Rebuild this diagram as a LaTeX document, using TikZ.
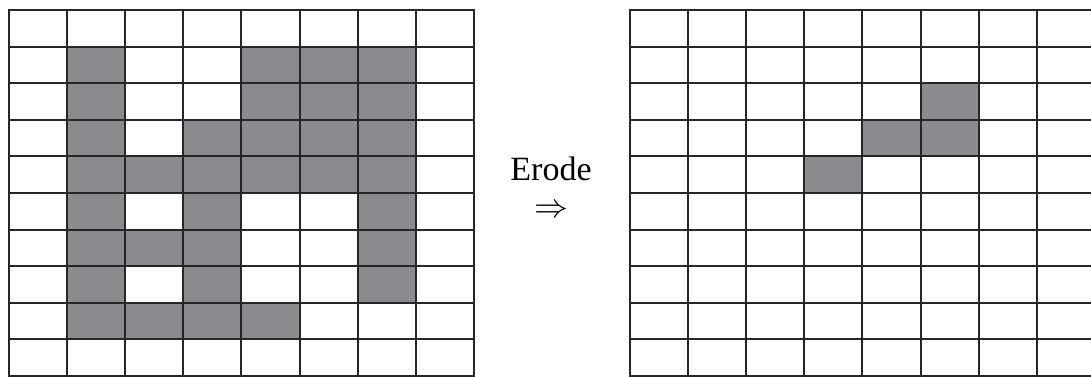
\RequirePackage{fix-cm}
\documentclass[tikz,border=0pt]{standalone}
\usepackage{fontspec}
\setmainfont{Liberation Serif}
\definecolor{cellgray}{RGB}{138,139,143}
\definecolor{gridline}{RGB}{38,38,38}
\tikzset{
  cellfill/.style={fill=cellgray},
  gridrule/.style={draw=gridline, line width=2pt, line cap=rect},
  labeltext/.style={font=\fontsize{34}{37}\selectfont, inner sep=0pt, align=center}
}
\newcommand\cw{58.1}
\newcommand\ch{36.6}
\begin{document}
\begin{tikzpicture}[x=1pt, y=-1pt]
  \useasboundingbox (0,0) rectangle (1091,377);
  \clip (0,0) rectangle (1091,377);
  % input image: 8 x 10 cells
  \begin{scope}[shift={(9,10)}]
    \foreach \c/\r in {1/1,4/1,5/1,6/1,
                       1/2,4/2,5/2,6/2,
                       1/3,3/3,4/3,5/3,6/3,
                       1/4,2/4,3/4,4/4,5/4,6/4,
                       1/5,3/5,6/5,
                       1/6,2/6,3/6,6/6,
                       1/7,3/7,6/7,
                       1/8,2/8,3/8,4/8}
      \fill[cellfill] (\c*\cw,\r*\ch) rectangle ++(\cw,\ch);
    \foreach \i in {0,...,8}
      \draw[gridrule] (\i*\cw,0) -- (\i*\cw,10*\ch);
    \foreach \j in {0,...,10}
      \draw[gridrule] (0,\j*\ch) -- (8*\cw,\j*\ch);
  \end{scope}
  % eroded result
  \begin{scope}[shift={(630,10)}]
    \foreach \c/\r in {5/2,4/3,5/3,3/4}
      \fill[cellfill] (\c*\cw,\r*\ch) rectangle ++(\cw,\ch);
    \foreach \i in {0,...,8}
      \draw[gridrule] (\i*\cw,0) -- (\i*\cw,10*\ch);
    \foreach \j in {0,...,10}
      \draw[gridrule] (0,\j*\ch) -- (8*\cw,\j*\ch);
  \end{scope}
  % operation label between the two grids
  \node[labeltext, anchor=north] (op) at (551,157) {Erode\\$\Rightarrow$};
\end{tikzpicture}
\end{document}
